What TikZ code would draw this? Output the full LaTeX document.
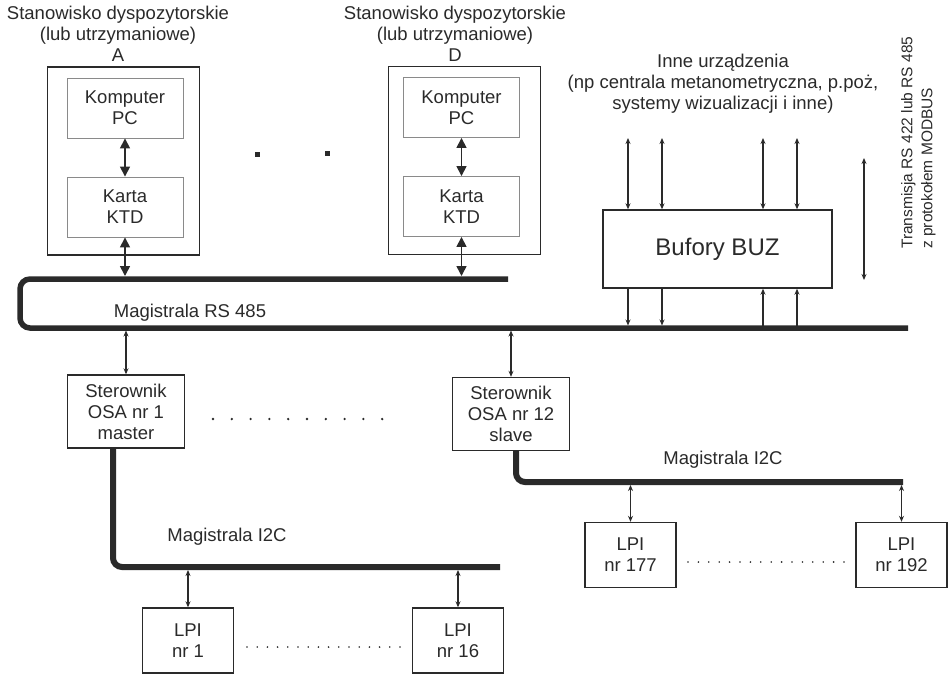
\documentclass[tikz,border=0pt]{standalone}
\usepackage{fontspec}
\setmainfont{Liberation Sans}
\usetikzlibrary{arrows.meta}
\definecolor{ink}{HTML}{2A2A2A}
\definecolor{thin}{HTML}{8A8A8A}
\begin{document}
\begin{tikzpicture}[x=1pt,y=-1pt,
  txt/.style={font=\fontsize{18.5}{21}\selectfont, text=ink, align=center},
  box/.style={draw=ink, line width=1.4pt, fill=white, txt, inner sep=0pt},
  inbox/.style={draw=thin, line width=0.9pt, txt, inner sep=0pt, minimum width=116pt, minimum height=60pt},
  outbox/.style={draw=ink, line width=1.6pt, minimum width=152pt, minimum height=188pt, inner sep=0pt},
  osabox/.style={box, minimum width=117pt, minimum height=73pt},
  lpibox/.style={box, minimum width=91pt, minimum height=65pt},
  bus/.style={draw=ink, line width=5.5pt},
  bigarr/.style={draw=ink, line width=1.6pt, {Triangle[length=10pt,width=10pt]}-{Triangle[length=10pt,width=10pt]}},
  conn/.style={draw=ink, line width=1.1pt, {Stealth[length=6pt,width=5pt]}-{Stealth[length=6pt,width=5pt]}},
  conndn/.style={draw=ink, line width=1.1pt, -{Stealth[length=6pt,width=5pt]}},
  connup/.style={draw=ink, line width=1.1pt, {Stealth[length=6pt,width=5pt]}-},
  dotmark/.style={fill=ink}
]
\useasboundingbox (0,0) rectangle (951,675);

% ---------- workstations ----------
\node[txt] (titleA) at (118,34) {Stanowisko dyspozytorskie\\(lub utrzymaniowe)\\A};
\node[outbox] (A) at (123.5,161) {};
\node[inbox] (pcA) at (125,108) {Komputer\\PC};
\node[inbox] (ktdA) at (125,207) {Karta\\KTD};

\node[txt] (titleD) at (455,34) {Stanowisko dyspozytorskie\\(lub utrzymaniowe)\\D};
\node[outbox] (D) at (464.5,160.5) {};
\node[inbox] (pcD) at (461.5,107.5) {Komputer\\PC};
\node[inbox] (ktdD) at (461.5,206.5) {Karta\\KTD};

\fill[dotmark] (254.5,151.5) rectangle (259.5,156.5);
\fill[dotmark] (324.5,150.5) rectangle (329.5,155.5);

% ---------- other devices ----------
\node[txt] (inne) at (723,84) {Inne urządzenia\\(np centrala metanometryczna, p.poż,\\systemy wizualizacji i inne)};
\node[box, minimum width=229pt, minimum height=78pt, font=\fontsize{24}{28}\selectfont] (buz) at (717.5,249) {Bufory BUZ};

\node[font=\fontsize{15.5}{20}\selectfont, text=ink, align=left, rotate=90, anchor=north west, inner sep=0pt] (trans) at (901,249)
  {Transmisja RS 422 lub RS 485\\z protokołem MODBUS};

% ---------- RS485 bus ----------
\coordinate (rsTopEnd) at (508,279);
\coordinate (rsBotEnd) at (908,328);
\coordinate (rsTopEdge) at (0,276);
\coordinate (rsBotTop) at (0,325.5);
\coordinate (rsBotBottom) at (0,330.5);
\draw[bus, rounded corners=10pt] (rsTopEnd) -- (20,279) -- (20,328) -- (rsBotEnd);
\node[txt] (rslabel) at (190,313) {Magistrala RS 485};

\draw[bigarr] (pcA.south) -- (ktdA.north);
\draw[bigarr] (ktdA.south) -- (ktdA.south |- rsTopEdge);
\draw[bigarr] (pcD.south) -- (ktdD.north);
\draw[bigarr] (ktdD.south) -- (ktdD.south |- rsTopEdge);

% BUZ connectors
\coordinate (t1) at (628,138);
\coordinate (t2) at (662,138);
\coordinate (t3) at (763,138);
\coordinate (t4) at (797,138);
\draw[conn] (t1) -- (t1 |- buz.north);
\draw[conn] (t2) -- (t2 |- buz.north);
\draw[conn] (t3) -- (t3 |- buz.north);
\draw[conn] (t4) -- (t4 |- buz.north);
\draw[conndn] (t1 |- buz.south) -- (t1 |- rsBotTop);
\draw[conndn] (t2 |- buz.south) -- (t2 |- rsBotTop);
\draw[connup] (t3 |- buz.south) -- (t3 |- rsBotTop);
\draw[connup] (t4 |- buz.south) -- (t4 |- rsBotTop);

\coordinate (sideTop) at (864,158);
\coordinate (sideBot) at (864,280);
\draw[conn] (sideTop) -- (sideBot);

% ---------- controllers ----------
\node[osabox] (osa1) at (126,411.5) {Sterownik\\OSA nr 1\\master};
\node[osabox] (osa12) at (511,414) {Sterownik\\OSA nr 12\\slave};
\draw[conn] (osa1.north |- rsBotBottom) -- (osa1.north);
\draw[conn] (osa12.north |- rsBotBottom) -- (osa12.north);
\foreach \i in {0,...,9} \fill[dotmark] (213+\i*18.8,419) circle (1.3pt);

% ---------- I2C bus 1 ----------
\coordinate (i2cAend) at (500,567);
\coordinate (i2cAedge) at (0,570);
\draw[bus, line width=6pt, rounded corners=9pt] ([xshift=-13pt]osa1.south) |- (i2cAend);
\node[txt] (i2cAlabel) at (227,537) {Magistrala I2C};
\node[lpibox] (lpi1) at (188,640.5) {LPI\\nr 1};
\node[lpibox] (lpi16) at (458,640.5) {LPI\\nr 16};
\draw[conn] (lpi1.north |- i2cAedge) -- (lpi1.north);
\draw[conn] (lpi16.north |- i2cAedge) -- (lpi16.north);
\foreach \i in {0,...,15} \fill[dotmark] (247+\i*10.2,647) circle (0.9pt);

% ---------- I2C bus 2 ----------
\coordinate (i2cBend) at (903,482);
\coordinate (i2cBedge) at (0,485);
\draw[bus, line width=6pt, rounded corners=9pt] ([xshift=5pt]osa12.south) |- (i2cBend);
\node[txt] (i2cBlabel) at (723,460) {Magistrala I2C};
\node[lpibox] (lpi177) at (630.5,555) {LPI\\nr 177};
\node[lpibox] (lpi192) at (901.5,555) {LPI\\nr 192};
\draw[conn] (lpi177.north |- i2cBedge) -- (lpi177.north);
\draw[conn] (lpi192.north |- i2cBedge) -- (lpi192.north);
\foreach \i in {0,...,15} \fill[dotmark] (688+\i*10.4,562) circle (0.9pt);
\end{tikzpicture}
\end{document}
